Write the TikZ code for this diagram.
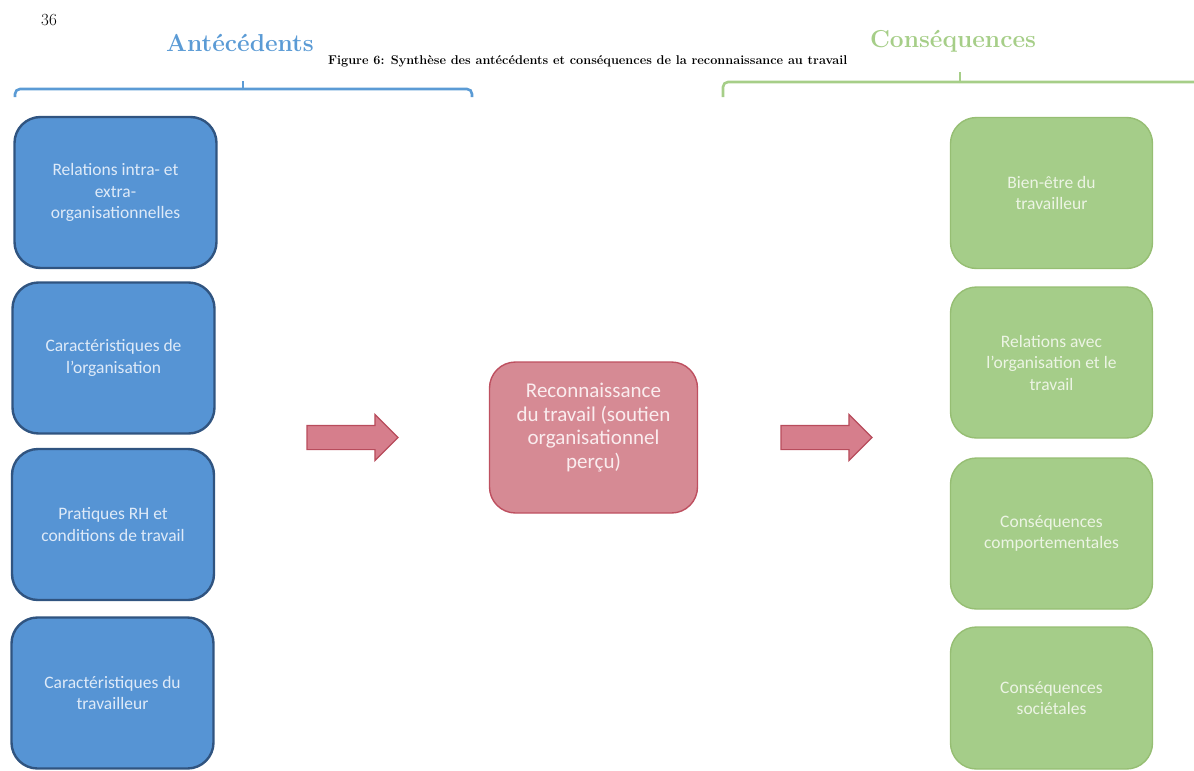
\documentclass[tikz,border=0pt]{standalone}
\usepackage{fontspec}
\usetikzlibrary{shapes.arrows}
\newfontfamily\boxfont{Carlito}

\definecolor{antblue}{RGB}{91,155,213}
\definecolor{antfill}{RGB}{86,148,212}
\definecolor{antedge}{RGB}{48,84,128}
\definecolor{antlabel}{RGB}{222,234,248}
\definecolor{consgreen}{RGB}{166,206,136}
\definecolor{consfill}{RGB}{165,205,137}
\definecolor{consedge}{RGB}{150,190,115}
\definecolor{conslabel}{RGB}{236,244,228}
\definecolor{recfill}{RGB}{214,138,148}
\definecolor{recedge}{RGB}{190,80,96}
\definecolor{reclabel}{RGB}{250,236,238}
\definecolor{arrfill}{RGB}{214,126,140}
\definecolor{arredge}{RGB}{184,76,92}

\tikzset{
  antbox/.style={draw=antedge, line width=2.4pt, fill=antfill, rounded corners=26pt,
    minimum width=202pt, minimum height=151pt, inner sep=0pt,
    text=antlabel, align=center, font=\boxfont\fontsize{17.5}{21.5}\selectfont},
  consbox/.style={draw=consedge, line width=1.4pt, fill=consfill, rounded corners=26pt,
    minimum width=202pt, minimum height=151pt, inner sep=0pt,
    text=conslabel, align=center, font=\boxfont\fontsize{17.5}{21.5}\selectfont},
  recbox/.style={draw=recedge, line width=1.4pt, fill=recfill, rounded corners=26pt,
    minimum width=208pt, minimum height=151pt, inner sep=0pt},
  reclabelstyle/.style={text=reclabel, align=center, inner sep=0pt,
    font=\boxfont\fontsize{21}{23.5}\selectfont},
  blockarrow/.style={single arrow, draw=arredge, line width=1.2pt, fill=arrfill,
    minimum height=91pt, inner xsep=0pt, inner ysep=11.5pt,
    single arrow head extend=11pt, single arrow tip angle=90},
  heading/.style={inner sep=0pt, font=\fontsize{24.5}{28}\selectfont\bfseries},
  brace/.style={line width=2.6pt, rounded corners=5pt}
}

\begin{document}
\begin{tikzpicture}[x=1pt,y=-1pt]
\useasboundingbox (0,0) rectangle (1194,771);
\clip (0,0) rectangle (1194,771);

% page number, headings and caption
\node[inner sep=0pt, font=\fontsize{17}{19}\selectfont] (pagenum) at (49,20) {36};
\node[heading, text=antblue] (anthead) at (240,43) {Antécédents};
\node[heading, text=consgreen] (conshead) at (953,41) {Conséquences};
\node[inner sep=0pt, anchor=base west, font=\fontsize{12.7}{14}\selectfont\bfseries] (caption) at (328,64)
  {Figure 6: Synthèse des antécédents et conséquences de la reconnaissance au travail};

% braces under the headings
\draw[brace, antblue] (15,97) -- (15,89) -- (472,89) -- (472,97);
\draw[line width=2.6pt, antblue] (243,90) -- (243,81);
\draw[brace, consgreen] (723,97) -- (723,82) -- (1205,82);
\draw[line width=2.6pt, consgreen] (960,83) -- (960,72);

% antecedents
\node[antbox] (ant1) at (115.5,192.5) {Relations intra- et\\extra-\\organisationnelles};
\node[antbox] (ant2) at (113.5,358) {Caractéristiques de\\l’organisation};
\node[antbox] (ant3) at (113,524.5) {Pratiques RH et\\conditions de travail};
\node[antbox] (ant4) at (112.5,693) {Caractéristiques du\\travailleur};

% central concept
\node[recbox] (rec) at (593.5,437.5) {};
\node[reclabelstyle] (rectext) at ([yshift=10pt]rec.center)
  {Reconnaissance\\du travail (soutien\\organisationnel\\perçu)};

% block arrows
\node[blockarrow] (arrowin) at (346.5,437.5) {};
\node[blockarrow] (arrowout) at (820.5,437.5) {};

% consequences
\node[consbox] (cons1) at (1051.5,193) {Bien-être du\\travailleur};
\node[consbox] (cons2) at (1051.5,362.5) {Relations avec\\l’organisation et le\\travail};
\node[consbox] (cons3) at (1051.5,533.5) {Conséquences\\comportementales};
\node[consbox, minimum height=142pt] (cons4) at (1051.5,698) {Conséquences\\sociétales};
\end{tikzpicture}
\end{document}
